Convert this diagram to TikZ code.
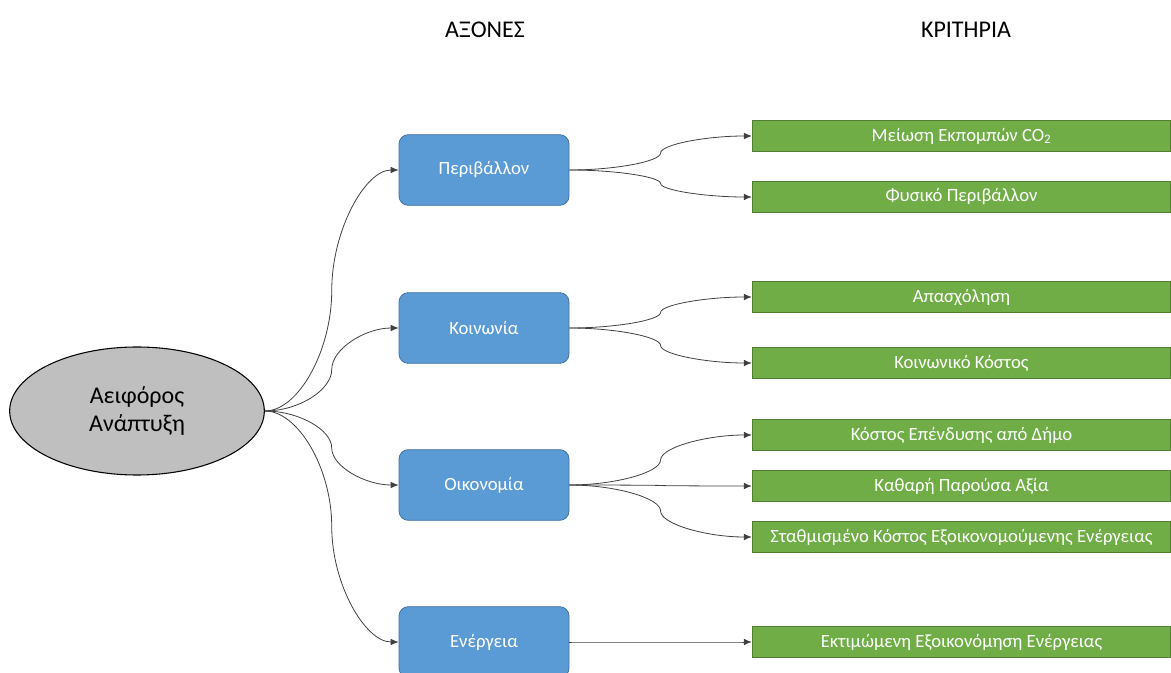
\documentclass[tikz,border=0pt]{standalone}
\usepackage{fontspec}
\setmainfont{Carlito}
\usetikzlibrary{shapes.geometric,arrows.meta,calc}

\definecolor{axisfill}{HTML}{5B9BD5}
\definecolor{axisedge}{HTML}{41719C}
\definecolor{critfill}{HTML}{70AD47}
\definecolor{critedge}{HTML}{507E32}
\definecolor{rootfill}{HTML}{BFBFBF}
\definecolor{linkgray}{HTML}{404040}

\tikzset{
  root/.style={ellipse, draw=black, line width=0.8pt, fill=rootfill, minimum width=191pt, minimum height=96pt, inner sep=0pt, align=center, font=\fontsize{18}{21}\selectfont},
  axisbox/.style={draw=axisedge, line width=0.6pt, fill=axisfill, rounded corners=7pt, minimum width=127.5pt, minimum height=53pt, text=white, font=\fontsize{14}{16}\selectfont},
  critbar/.style={draw=critedge, line width=0.6pt, fill=critfill, minimum width=314pt, minimum height=23pt, inner sep=0pt, text=white, font=\fontsize{14}{16}\selectfont},
  head/.style={font=\fontsize{18}{20}\selectfont},
  link/.style={draw=linkgray, line width=0.6pt, -{Latex[length=6pt,width=5pt]}},
}

% office style curved connector
\newcommand\curvelink[2]{%
  \draw[link] let \p1=(#1), \p2=(#2) in (\p1)
    .. controls ({0.75*\x1+0.25*\x2},\y1) and ({0.5*\x1+0.5*\x2},{0.75*\y1+0.25*\y2})
    .. ({0.5*\x1+0.5*\x2},{0.5*\y1+0.5*\y2})
    .. controls ({0.5*\x1+0.5*\x2},{0.25*\y1+0.75*\y2}) and ({0.25*\x1+0.75*\x2},\y2)
    .. (\p2);}

\begin{document}
\begin{tikzpicture}[x=0.75pt,y=-0.75pt]
  \useasboundingbox (0,0) rectangle (1171,673);

  \node[head] (hax) at (485,30) {ΑΞΟΝΕΣ};
  \node[head] (hcr) at (966,30) {ΚΡΙΤΗΡΙΑ};

  \node[root] (ad) at (137,411) {Αειφόρος\\Ανάπτυξη};

  \node[axisbox] (per) at (484,170) {Περιβάλλον};
  \node[axisbox] (koi) at (484,328) {Κοινωνία};
  \node[axisbox] (oik) at (484,485) {Οικονομία};
  \node[axisbox] (ene) at (484,642) {Ενέργεια};

  \node[critbar] (co) at (961.5,136) {Μείωση Εκπομπών CO\textsubscript{2}};
  \node[critbar] (fp) at (961.5,197) {Φυσικό Περιβάλλον};
  \node[critbar] (ap) at (961.5,297) {Απασχόληση};
  \node[critbar] (kk) at (961.5,363) {Κοινωνικό Κόστος};
  \node[critbar] (ke) at (961.5,435) {Κόστος Επένδυσης από Δήμο};
  \node[critbar] (kp) at (961.5,486) {Καθαρή Παρούσα Αξία};
  \node[critbar] (sk) at (961.5,537) {Σταθμισμένο Κόστος Εξοικονομούμενης Ενέργειας};
  \node[critbar] (ee) at (961.5,642) {Εκτιμώμενη Εξοικονόμηση Ενέργειας};

  \foreach \ax in {per,koi,oik,ene}
    \curvelink{ad.east}{\ax.west};

  \curvelink{per.east}{co.west}
  \curvelink{per.east}{fp.west}
  \curvelink{koi.east}{ap.west}
  \curvelink{koi.east}{kk.west}
  \curvelink{oik.east}{ke.west}
  \curvelink{oik.east}{kp.west}
  \curvelink{oik.east}{sk.west}
  \curvelink{ene.east}{ee.west}
\end{tikzpicture}
\end{document}
